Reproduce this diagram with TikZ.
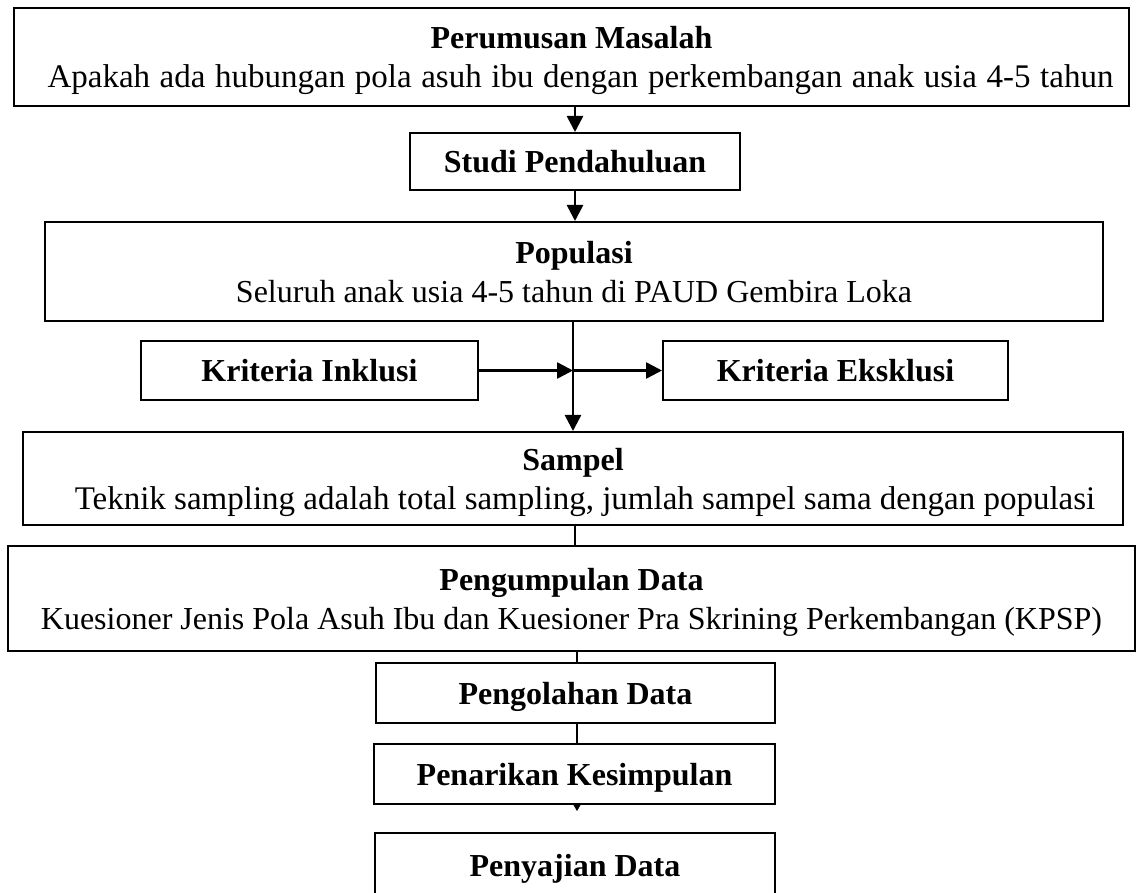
\documentclass[tikz,border=0pt]{standalone}
\usepackage{fontspec}
\setmainfont{Liberation Serif}
\usetikzlibrary{arrows.meta}
\begin{document}
\begin{tikzpicture}[x=1pt,y=-1pt,
  box/.style={draw=black, line width=2pt, inner sep=0pt, align=center,
    text depth=0pt, font=\fontsize{32}{39}\selectfont},
  conn/.style={line width=2.6pt},
  arr/.style={conn, -{Triangle[width=16pt,length=16pt]}},
  tinyarr/.style={line width=0.8pt, -{Triangle[width=8pt,length=7pt]}}]
\useasboundingbox (0,0) rectangle (1136,893);
\clip (0,0) rectangle (1136,893);
\fill[white] (0,0) rectangle (1136,893);
\node[box, minimum width=1115pt, minimum height=98pt] (b1) at (571.5,57)
  {\textbf{Perumusan Masalah}\\\hspace*{18pt}{\fontsize{33}{39}\selectfont\spaceskip=9.6pt\relax Apakah ada hubungan pola asuh ibu dengan perkembangan anak usia 4-5 tahun}};
\node[box, minimum width=330pt, minimum height=57pt] (b2) at (575,161.5)
  {\textbf{Studi Pendahuluan}};
\node[box, minimum width=1058pt, minimum height=99pt] (b3) at (574,271.5)
  {\textbf{Populasi}\\Seluruh anak usia 4-5 tahun di PAUD Gembira Loka};
\node[box, minimum width=337pt, minimum height=59pt] (inkl) at (309.5,370.5)
  {\textbf{Kriteria Inklusi}};
\node[box, minimum width=345pt, minimum height=59pt] (eksk) at (835.5,370.5)
  {\textbf{Kriteria Eksklusi}};
\node[box, minimum width=1100pt, minimum height=93pt] (b4) at (573,478.5)
  {\textbf{Sampel}\\\hspace*{24pt}{\fontsize{33}{39}\selectfont Teknik sampling adalah total sampling, jumlah sampel sama dengan populasi}};
\node[box, minimum width=1127pt, minimum height=105pt] (b5) at (571.5,598.5)
  {\textbf{Pengumpulan Data}\\Kuesioner Jenis Pola Asuh Ibu dan Kuesioner Pra Skrining Perkembangan (KPSP)};
\node[box, minimum width=399pt, minimum height=60pt] (b6) at (575.5,693)
  {\textbf{Pengolahan Data}};
\node[box, minimum width=401pt, minimum height=60pt] (b7) at (574.5,774)
  {\textbf{Penarikan Kesimpulan}};
\node[box, minimum width=400pt, minimum height=64pt] (b8) at (575,865)
  {\textbf{Penyajian Data}};
\coordinate (ax) at (575,0);
\coordinate (mx) at (573,0);
\coordinate (jn) at (573,370.5);
\coordinate (tip) at (577,811);
\draw[arr] (b1.south -| ax) -- (b2.north -| ax);
\draw[arr] (b2.south -| ax) -- (b3.north -| ax);
\draw[arr] (b3.south -| mx) -- (b4.north -| mx);
\draw[arr] (inkl.east) -- (jn);
\draw[arr] (jn) -- (eksk.west);
\draw[conn] (b4.south -| ax) -- (b5.north -| ax);
\draw[conn] (b5.south -| tip) -- (b6.north -| tip);
\draw[conn] (b6.south -| tip) -- (b7.north -| tip);
\draw[tinyarr] (b7.south -| tip) -- (tip);
\end{tikzpicture}
\end{document}
